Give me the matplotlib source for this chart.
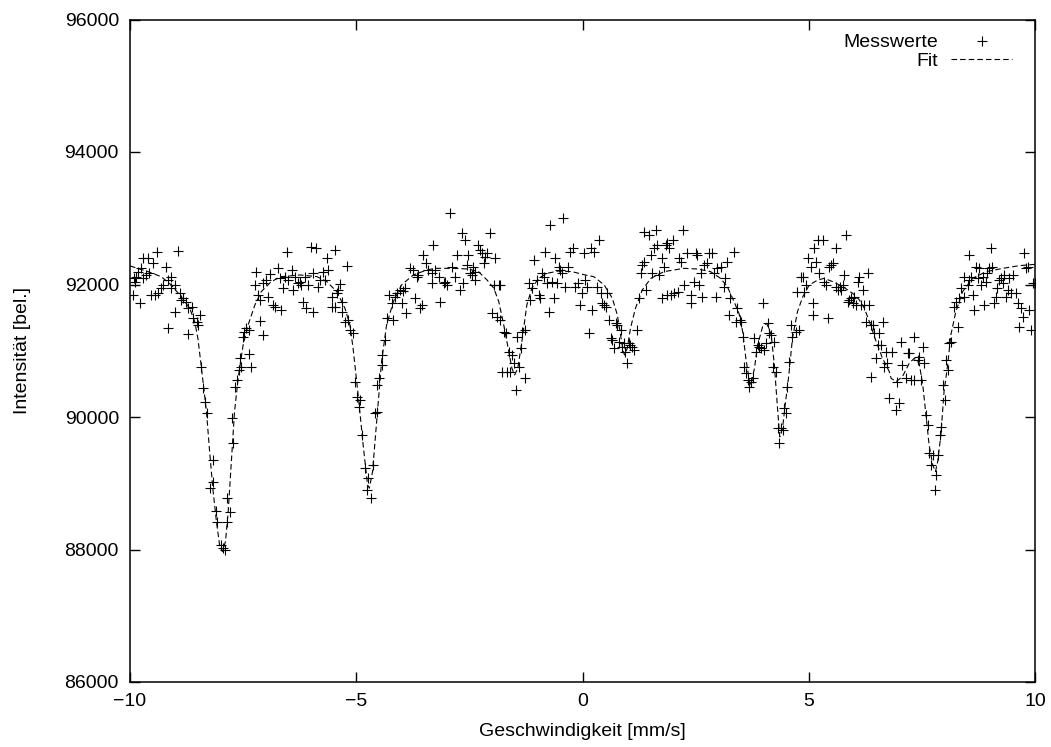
import matplotlib
matplotlib.use("Agg")
import matplotlib.pyplot as plt
import numpy as np

plt.rcParams['font.family'] = ['Liberation Sans', 'DejaVu Sans']
plt.rcParams['lines.scale_dashes'] = False

# ---- measured data (Messwerte), split by velocity region ----
x_seg1 = [-9.91, -9.86, -9.88, -9.82, -9.75, -9.71, -9.60, -9.49, -9.40, -8.94,
          -9.71, -9.64, -9.57, -9.53, -9.45, -9.38, -9.31, -9.27, -9.20, -9.16,
          -9.09, -9.09, -9.01, -9.93, -9.79, -8.90, -8.87, -8.83, -8.76, -8.72,
          -8.64, -8.61, -8.53, -8.50, -8.46, -9.01, -9.16, -8.72, -8.42, -8.39,
          -8.35, -8.29, -8.17, -8.17, -8.24, -8.11, -8.07, -8.00, -7.94, -7.91,
          -7.85, -7.80, -7.85, -7.75, -7.72, -7.67, -7.63, -7.59, -7.54, -7.58,
          -7.50, -7.47, -7.43, -7.36, -7.36, -7.32, -7.13, -7.06, -7.24, -7.21,
          -7.17, -7.13, -7.06, -6.99, -6.91, -6.95, -6.84, -6.80, -6.73, -6.69,
          -6.66]
y_seg1 = [92093, 92118, 92043, 92194, 92244, 92395, 92395, 92319, 92496, 92506,
          92093, 92143, 92169, 91842, 91842, 91867, 91942, 91993, 92269, 92068,
          92118, 91942, 91993, 91842, 91716, 91867, 91766, 91791, 91741, 91640,
          91666, 91490, 91439, 91389, 91540, 91580, 91349, 91248, 90760, 90433,
          90232, 90056, 89352, 89025, 88924, 88582, 88411, 88069, 88019, 87990,
          88421, 88572, 88773, 89990, 89603, 90458, 90559, 90710, 90760, 90886,
          91213, 91288, 91339, 91313, 90946, 90760, 91449, 91238, 91993, 92184,
          91842, 91766, 92018, 92068, 92153, 91817, 91691, 91666, 92244, 92093,
          91615]

x_seg2 = [-6.61, -6.58, -6.54, -6.50, -6.43, -6.39, -6.35, -6.28, -6.24, -6.21,
          -6.13, -6.06, -5.99, -5.95, -5.89, -5.84, -5.80, -5.74, -5.69, -5.65,
          -5.62, -5.47, -5.43, -5.40, -5.37, -5.54, -5.54, -5.47, -5.32, -5.32,
          -5.25, -5.18, -5.14, -5.08, -5.21, -6.17, -6.10, -5.95, -5.03, -4.98,
          -4.92, -4.93, -4.87, -4.81, -4.73, -4.77, -4.68, -4.64, -4.55, -4.59,
          -4.54, -4.49, -4.44, -4.42, -4.36, -4.33, -4.27, -4.18, -4.22, -4.14,
          -4.11, -4.03, -4.00, -3.96, -3.92, -3.89, -3.81, -3.75, -3.70, -3.66,
          -3.63, -3.59, -3.55, -3.52, -3.46, -3.41, -3.33, -3.33, -3.30]
y_seg2 = [91943, 92119, 92496, 92068, 92219, 91917, 92119, 92018, 92043, 91993,
          92119, 91993, 92571, 92169, 92546, 91968, 92068, 92194, 92068, 92395,
          92219, 92521, 91867, 91917, 92003, 91817, 91666, 91666, 91741, 91590,
          91440, 91465, 91314, 91263, 92285, 91741, 91641, 91590, 90534, 90308,
          90257, 90157, 89729, 89226, 89075, 88899, 88774, 89277, 90081, 90060,
          90484, 90584, 90786, 90937, 91163, 91490, 91842, 91465, 91716, 91817,
          91867, 91917, 91716, 91902, 91943, 91565, 92244, 92219, 91792, 92119,
          92144, 91641, 91691, 92446, 92320, 92219, 92169, 92018, 92596]

x_seg3 = [-3.25, -3.18, -3.14, -3.07, -3.03, -2.99, -2.92, -2.88, -2.81, -2.77,
          -2.70, -2.66, -2.63, -2.59, -2.55, -2.52, -2.48, -2.44, -2.41, -2.37,
          -2.37, -2.30, -2.26, -2.22, -2.18, -2.15, -2.11, -2.04, -1.96, -1.93,
          -1.85, -1.82, -2.00, -1.89, -1.82, -1.74, -1.70, -1.63, -1.56, -1.52,
          -1.60, -1.78, -1.67, -1.48, -1.41, -1.37, -1.34, -1.26, -1.26, -1.45,
          -1.19, -1.15, -1.12, -1.08, -1.01, -0.97, -0.93, -0.90, -0.86, -0.82,
          -0.78, -0.75, -0.71, -0.67, -0.64, -0.60, -0.56, -0.53, -0.49, -0.45,
          -0.42, -0.38, -0.31, -0.27, -0.20, -0.16, -0.09, -0.05, -0.01, 0.03,
          0.06]
y_seg3 = [92219, 92119, 91741, 92018, 92043, 91993, 93074, 92269, 92119, 92446,
          91917, 92772, 92018, 92672, 92295, 92446, 92169, 92144, 92269, 92194,
          92068, 92596, 92521, 92471, 92320, 92420, 92471, 92772, 91993, 92395,
          91993, 91993, 91565, 91515, 91465, 91289, 91263, 90987, 90937, 90811,
          90685, 90685, 90685, 90408, 90760, 91037, 91289, 91314, 90584, 91213,
          92018, 91767, 91943, 92370, 92068, 91842, 91792, 92169, 92119, 92496,
          92018, 91590, 92898, 92043, 91792, 92395, 92018, 92269, 92219, 92169,
          92999, 91968, 92269, 92496, 92546, 91968, 92018, 91691, 91867, 92471,
          92068]

x_seg4 = [0.11, 0.14, 0.18, 0.22, 0.25, 0.33, 0.36, 0.40, 0.44, 0.48,
          0.51, 0.55, 0.59, 0.62, 0.66, 0.70, 0.73, 0.77, 0.81, 0.84,
          0.88, 0.92, 0.95, 0.99, 1.03, 1.06, 1.10, 1.14, 1.21, 1.25,
          1.29, 1.32, 1.36, 1.40, 1.36, 1.47, 1.51, 1.54, 1.58, 1.62,
          1.65, 1.69, 1.76, 1.80, 1.84, 1.87, 1.91, 1.99, 1.76, 1.87,
          1.95, 2.02, 2.10, 2.13, 2.17, 2.21, 2.24, 2.32, 2.39, 2.39,
          2.46, 2.50, 2.54, 2.57, 2.61, 2.65, 2.69, 2.76, 2.80, 2.87,
          2.91, 2.94, 2.98, 3.05, 3.13, 3.16, 3.20, 3.24, 3.27, 3.35,
          3.39, 3.42]
y_seg4 = [91968, 91263, 92546, 91615, 92496, 91968, 92672, 91867, 91716, 91691,
          91666, 91867, 91465, 91188, 91163, 91037, 91414, 91389, 91138, 91314,
          91062, 91113, 90987, 90811, 91113, 91087, 91062, 91012, 91314, 91791,
          92169, 92295, 92345, 91917, 92798, 92747, 92445, 92169, 92546, 92823,
          92596, 92144, 92395, 92269, 92596, 92621, 92546, 92672, 91791, 91842,
          91842, 91867, 91892, 92395, 92345, 92823, 91993, 92471, 91842, 91716,
          92043, 92471, 92445, 91993, 92169, 91817, 92295, 92320, 92471, 92471,
          92169, 91817, 92244, 92269, 91968, 92093, 92345, 91540, 91791, 92496,
          91439, 91640]

x_seg5 = [3.47, 3.50, 3.54, 3.58, 3.61, 3.65, 3.69, 3.72, 3.76, 3.80,
          3.83, 3.87, 3.91, 3.94, 3.98, 4.02, 4.06, 4.09, 4.13, 4.17,
          4.20, 4.24, 4.28, 4.31, 4.35, 4.39, 4.42, 4.46, 4.50, 4.53,
          4.57, 4.61, 4.64, 4.72, 4.75, 4.79, 4.83, 4.87, 4.90, 4.94,
          4.98, 5.05, 5.09, 5.09, 5.12, 5.16, 5.20, 5.23, 5.31, 5.34,
          5.38, 5.42, 5.45, 5.49, 5.53, 5.60, 5.60, 5.64, 5.68, 5.71,
          5.75, 5.79, 5.82, 5.86, 5.90, 5.93, 5.97, 6.01, 6.04, 6.08,
          6.12, 6.15, 6.19, 6.23, 6.27, 6.30, 6.34, 6.38, 6.41, 6.45,
          6.49, 6.52, 6.56, 6.60, 6.63, 6.67, 6.71, 6.74, 6.38, 6.78]
y_seg5 = [91464, 91439, 91213, 90760, 90660, 90559, 90458, 90534, 90584, 91188,
          90987, 91087, 91062, 91037, 91716, 91012, 91112, 91414, 91263, 91238,
          90760, 91138, 90685, 89830, 89603, 89830, 89805, 90131, 90056, 90458,
          90836, 91389, 91213, 91288, 91892, 91314, 92118, 92118, 91892, 91993,
          92395, 92269, 91716, 91540, 92546, 92345, 92672, 92169, 92672, 92043,
          91993, 91490, 92269, 92294, 92320, 92546, 91968, 91917, 91968, 91917,
          91993, 92143, 92747, 91741, 91766, 91791, 91716, 91817, 91691, 92043,
          92118, 91691, 91917, 91691, 91439, 92169, 91691, 91389, 91389, 91263,
          90886, 91087, 91263, 91087, 91439, 90760, 90987, 90811, 90609, 90282]

x_seg6 = [6.85, 6.93, 6.96, 7.00, 7.04, 7.07, 7.15, 7.19, 7.22, 7.26,
          7.33, 7.33, 7.41, 7.44, 7.48, 7.52, 7.55, 7.59, 7.63, 7.66,
          7.70, 7.74, 7.81, 7.78, 7.85, 7.89, 7.92, 7.97, 8.02, 8.03,
          8.07, 8.11, 8.14, 8.22, 8.25, 8.29, 8.33, 8.36, 8.44, 8.44,
          8.51, 8.55, 8.55, 8.59, 8.62, 8.66, 8.70, 8.73, 8.77, 8.81,
          8.84, 8.88, 8.92, 8.95, 8.99, 9.03, 9.06, 9.10, 9.14, 9.17,
          9.21, 9.25, 9.29, 9.32, 9.36, 9.40, 9.43, 9.47, 9.51, 9.58,
          9.62, 9.65, 9.69, 9.73, 9.76, 9.80, 9.84, 9.87, 9.91, 9.95,
          9.99]
y_seg6 = [90987, 90106, 90534, 90207, 91138, 90785, 90584, 90961, 90961, 90559,
          91213, 90559, 90861, 90911, 90559, 91062, 90810, 90031, 89880, 89452,
          89276, 89427, 89125, 88899, 89427, 89729, 89855, 90484, 90257, 90861,
          90710, 91112, 91137, 91666, 91741, 91364, 91791, 91942, 92118, 91816,
          91993, 92445, 92068, 92118, 91842, 91615, 92269, 92093, 92244, 91993,
          92118, 91691, 92043, 92169, 92244, 92546, 92269, 91716, 91816, 91942,
          92068, 92093, 92018, 92143, 91816, 91917, 92093, 91867, 92143, 91867,
          91716, 91364, 91640, 91515, 92470, 92244, 92269, 91615, 91314, 92018,
          92018]

# ---- fit curve ----
fit_x = [-10.0, -9.60, -9.31, -9.09, -8.87, -8.68, -8.57, -8.50, -8.42, -8.31,
         -8.24, -8.17, -8.09, -8.02, -7.96, -7.89, -7.83, -7.76, -7.69, -7.61,
         -7.50, -7.39, -7.24, -7.10, -6.88, -6.66, -6.24, -5.87, -5.65, -5.43,
         -5.25, -5.14, -5.07, -4.95, -4.84, -4.75, -4.71, -4.64, -4.55, -4.44,
         -4.33, -4.18, -4.00, -3.74, -3.44, -3.26, -2.88, -2.52, -2.30, -2.11,
         -1.96, -1.85, -1.74, -1.63, -1.56, -1.50, -1.43, -1.34, -1.23, -1.12,
         -0.97, -0.78, -0.53, -0.23, 0.06, 0.25, 0.48, 0.66, 0.77, 0.84,
         0.90, 0.93, 0.99, 1.06, 1.17, 1.32, 1.51, 1.80, 2.24, 2.54,
         2.83, 3.05, 3.20, 3.35, 3.46, 3.54, 3.61, 3.69, 3.72, 3.80,
         3.87, 3.98, 4.07, 4.17, 4.24, 4.31, 4.36, 4.42, 4.48, 4.56,
         4.64, 4.75, 4.87, 5.01, 5.20, 5.34, 5.53, 5.75, 5.97, 6.12,
         6.23, 6.34, 6.49, 6.63, 6.78, 6.82, 6.93, 7.07, 7.22, 7.33,
         7.44, 7.52, 7.59, 7.66, 7.74, 7.80, 7.85, 7.92, 7.99, 8.07,
         8.14, 8.25, 8.40, 8.62, 8.92, 9.29, 9.65, 10.0]
fit_y = [92280, 92194, 92118, 91993, 91817, 91640, 91439, 91188, 90735, 90081,
         89477, 88924, 88421, 88069, 87968, 88119, 88572, 89327, 90081, 90584,
         91087, 91389, 91691, 91892, 92043, 92118, 92144, 92119, 92043, 91892,
         91641, 91389, 91037, 90283, 89528, 88975, 88925, 89176, 89931, 90836,
         91389, 91741, 91993, 92144, 92219, 92244, 92244, 92234, 92194, 92068,
         91943, 91741, 91389, 90987, 90735, 90635, 90735, 91138, 91691, 91943,
         92093, 92169, 92204, 92194, 92144, 92118, 91993, 91791, 91540, 91238,
         90987, 90936, 91037, 91339, 91640, 91917, 92093, 92194, 92244, 92234,
         92194, 92093, 91968, 91741, 91560, 91288, 90886, 90534, 90484, 90735,
         91087, 91364, 91414, 91238, 90786, 90131, 89700, 89830, 90182, 90634,
         91188, 91590, 91817, 91993, 92068, 92093, 92043, 91968, 91867, 91766,
         91640, 91439, 91138, 90886, 90685, 90584, 90534, 90609, 90810, 90886,
         90810, 90484, 90031, 89578, 89276, 89176, 89327, 89729, 90383, 90785,
         91238, 91590, 91892, 92093, 92194, 92244, 92284, 92304]

x_ticks = [-10, -5, 0, 5, 10]
y_ticks = [86000, 88000, 90000, 92000, 94000, 96000]

x_mess = np.concatenate([x_seg1, x_seg2, x_seg3, x_seg4, x_seg5, x_seg6])
y_mess = np.concatenate([y_seg1, y_seg2, y_seg3, y_seg4, y_seg5, y_seg6])

fig = plt.figure(figsize=(10.51, 7.47), dpi=100)
ax_h = 662.5 / 747
ax = fig.add_axes([130 / 1051, 65 / 747, 905 / 1051, ax_h])

ax.plot(x_mess, y_mess, linestyle='none', marker='+', color='black',
        markersize=7, markeredgewidth=0.8, label='Messwerte')
ax.plot(fit_x, fit_y, color='black', linewidth=0.8, dashes=(4, 2.2), label='Fit')

ax.set_xlim(-10, 10)
ax.set_ylim(86000, 96000)
ax.set_xticks(x_ticks)
ax.set_xticklabels(['\u221210', '\u22125', '0', '5', '10'])
ax.set_yticks(y_ticks)
ax.set_yticklabels([str(v) for v in y_ticks])
ax.tick_params(direction='in', length=7, width=1, top=True, right=True,
               labelsize=14, pad=8, colors='black')
for s in ax.spines.values():
    s.set_linewidth(1.1)

ax.set_xlabel('Geschwindigkeit [mm/s]', fontsize=14, labelpad=9)
ax.set_ylabel('Intensität [bel.]', fontsize=14, labelpad=24)

leg = ax.legend(loc='upper right', frameon=False, markerfirst=False,
                fontsize=14, handlelength=3.1, handletextpad=0.7,
                labelspacing=0.05, borderpad=0.3, borderaxespad=0.9,
                bbox_to_anchor=(1.0, 1.0 + 9 / 662.5))

fig.savefig('out.png', dpi=100)
